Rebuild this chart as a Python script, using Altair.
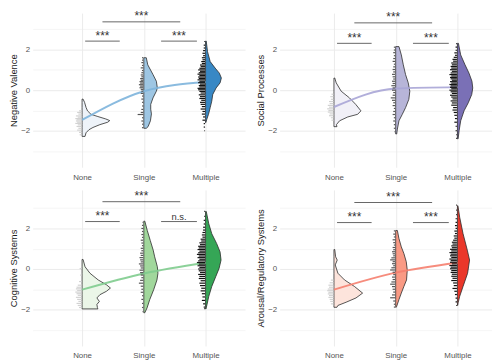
import altair as alt
import pandas as pd

FONT = "Liberation Sans"
GROUPS = ["None", "Single", "Multiple"]
GROUP_POS = [1, 2, 3]
PX_PER_UNIT = 62.5  # violin readings are in px of the x axis
W = 215
Y_DOMAIN_TOP = [-3.8, 3.8]
Y_DOMAIN_BOTTOM = [-3.8, 3.9]
H_TOP, H_BOTTOM = 156, 158
GRID = "#EBEBEB"
RUG_COLORS = ["#d2d2d2", "#555555", "#111111"]

BR_X_TOP = [1.33, 2.59]
BR_X_LEFT = [1.05, 1.61]
BR_X_RIGHT = [2.28, 2.86]

# ---------------- Negative Valence ----------------
NV_FILLS = ["#eef3f9", "#9ec6e3", "#3888c5"]
NV_LINE = "#7db4db"
NV_MEANS = [-1.47, -0.05, 0.40]
NV_BRACKET_Y = [3.37, 2.42, 2.42]
NV_LABELS = ["***", "***", "***"]
NV_NONE_Y = [-0.44, -0.6, -0.85, -1.02, -1.19, -1.3, -1.42, -1.5, -1.58, -1.7, -1.84, -1.95, -2.1, -2.28]
NV_NONE_D = [1, 2.5, 4, 5.5, 9, 16, 24, 28, 26, 18, 11, 7, 4, 3]
NV_SINGLE_Y = [1.6, 1.25, 0.77, 0.44, 0.11, -0.05, -0.38, -0.7, -0.94, -1.17, -1.51, -1.8, -1.88]
NV_SINGLE_D = [2.5, 4, 9.3, 12.7, 13.7, 12.7, 9.3, 7, 7, 7.7, 6.7, 4.3, 2.5]
NV_MULT_Y = [2.42, 1.9, 1.41, 1.09, 0.84, 0.6, 0.36, 0.11, -0.21, -0.54, -0.86, -1.19, -1.43, -1.6]
NV_MULT_D = [0.7, 2, 4.7, 9.7, 14, 16, 14.7, 10.7, 7.3, 6.3, 4.7, 3, 1.3, 0.3]
NV_NONE_RUG_Y = [-1.02, -1.1, -1.18, -1.27, -1.33, -1.4, -1.46, -1.52, -1.58, -1.64, -1.71, -1.79, -1.88, -1.97, -2.08, -2.2]
NV_NONE_RUG_J = [0.05, 0.08, 0.06, 0.1, 0.07, 0.11, 0.09, 0.1, 0.08, 0.11, 0.07, 0.09, 0.06, 0.08, 0.05, 0.04]
NV_SINGLE_RUG_Y = [1.6, 1.48, 1.36, 1.22, 1.1, 0.97, 0.86, 0.75, 0.66, 0.57, 0.49, 0.42, 0.35, 0.27, 0.2, 0.12, 0.04, -0.05, -0.16, -0.29, -0.44, -0.6, -0.78, -0.95, -1.1, -1.2, -1.36, -1.52, -1.68, -1.85]
NV_SINGLE_RUG_J = [0.03, 0.03, 0.04, 0.03, 0.05, 0.03, 0.04, 0.05, 0.04, 0.06, 0.05, 0.07, 0.06, 0.08, 0.06, 0.07, 0.05, 0.04, 0.05, 0.03, 0.04, 0.03, 0.03, 0.04, 0.05, 0.1, 0.03, 0.04, 0.03, 0.03]
NV_MULT_RUG_Y = [2.4, 2.22, 2.08, 1.95, 1.82, 1.7, 1.6, 1.5, 1.41, 1.32, 1.24, 1.16, 1.08, 1.0, 0.93, 0.86, 0.79, 0.72, 0.65, 0.58, 0.51, 0.44, 0.37, 0.3, 0.23, 0.16, 0.09, 0.02, -0.06, -0.14, -0.23, -0.32, -0.41, -0.5, -0.6, -0.7, -0.81, -0.93, -1.05, -1.18, -1.32, -1.48, -1.65, -1.82, -2.0]
NV_MULT_RUG_J = [0.02, 0.03, 0.03, 0.04, 0.05, 0.04, 0.06, 0.05, 0.07, 0.06, 0.09, 0.08, 0.1, 0.12, 0.09, 0.11, 0.13, 0.1, 0.12, 0.11, 0.13, 0.1, 0.12, 0.09, 0.11, 0.1, 0.13, 0.12, 0.1, 0.08, 0.11, 0.09, 0.1, 0.07, 0.09, 0.08, 0.06, 0.08, 0.05, 0.06, 0.04, 0.05, 0.03, 0.03, 0.02]

# ---------------- Social Processes ----------------
SP_FILLS = ["#f1f0f7", "#b7b5d8", "#7a70b6"]
SP_LINE = "#a9a5d6"
SP_MEANS = [-0.83, 0.08, 0.15]
SP_BRACKET_Y = [3.32, 2.31, 2.31]
SP_LABELS = ["***", "***", "***"]
SP_NONE_Y = [0.6, 0.36, -0.05, -0.38, -0.7, -1.02, -1.19, -1.32, -1.51, -1.7, -1.8]
SP_NONE_D = [0.8, 2.3, 7.3, 15.7, 22, 27.3, 24, 14, 5.7, 2.5, 3]
SP_SINGLE_Y = [2.15, 1.74, 1.25, 0.77, 0.36, -0.05, -0.45, -0.86, -1.19, -1.51, -1.92, -2.16]
SP_SINGLE_D = [3.3, 5.7, 7.7, 10, 12.7, 14.3, 13.3, 10, 6.7, 3.3, 1.7, 1]
SP_MULT_Y = [2.31, 1.74, 1.25, 0.84, 0.44, 0.11, -0.21, -0.62, -1.02, -1.51, -2.0, -2.4]
SP_MULT_D = [1, 3.3, 7.7, 11.7, 14.7, 15.5, 14.5, 11, 6.7, 3.3, 1.7, 0.7]
SP_NONE_RUG_Y = [-0.2, -0.32, -0.45, -0.56, -0.66, -0.75, -0.84, -0.92, -1.0, -1.08, -1.17, -1.26, -1.36, -1.48]
SP_NONE_RUG_J = [0.04, 0.06, 0.05, 0.08, 0.07, 0.1, 0.08, 0.11, 0.09, 0.1, 0.07, 0.08, 0.05, 0.04]
SP_SINGLE_RUG_Y = [2.12, 1.98, 1.85, 1.7, 1.56, 1.42, 1.28, 1.15, 1.02, 0.9, 0.78, 0.66, 0.55, 0.44, 0.33, 0.22, 0.11, 0.0, -0.12, -0.25, -0.38, -0.5, -0.62, -0.76, -0.9, -1.05, -1.2, -1.36, -1.52, -1.7, -1.88, -2.05]
SP_SINGLE_RUG_J = [0.03, 0.03, 0.04, 0.03, 0.04, 0.05, 0.03, 0.04, 0.05, 0.04, 0.06, 0.05, 0.04, 0.06, 0.05, 0.07, 0.05, 0.06, 0.04, 0.05, 0.08, 0.06, 0.04, 0.05, 0.03, 0.04, 0.05, 0.03, 0.04, 0.03, 0.03, 0.02]
SP_MULT_RUG_Y = [2.3, 2.12, 1.97, 1.84, 1.72, 1.62, 1.52, 1.43, 1.34, 1.25, 1.17, 1.09, 1.01, 0.93, 0.85, 0.77, 0.7, 0.63, 0.56, 0.49, 0.42, 0.35, 0.28, 0.21, 0.14, 0.07, 0.0, -0.08, -0.16, -0.25, -0.34, -0.43, -0.53, -0.63, -0.74, -0.86, -0.98, -1.1, -1.24, -1.4, -1.58, -1.78, -2.0, -2.2, -2.38]
SP_MULT_RUG_J = [0.02, 0.03, 0.03, 0.05, 0.04, 0.06, 0.08, 0.07, 0.1, 0.09, 0.11, 0.1, 0.12, 0.09, 0.11, 0.13, 0.1, 0.12, 0.11, 0.09, 0.12, 0.1, 0.13, 0.11, 0.12, 0.1, 0.13, 0.11, 0.09, 0.12, 0.1, 0.08, 0.11, 0.09, 0.1, 0.07, 0.08, 0.06, 0.05, 0.04, 0.05, 0.03, 0.03, 0.02, 0.02]

# ---------------- Cognitive Systems ----------------
CS_FILLS = ["#ebf6e8", "#a1d79c", "#35a656"]
CS_LINE = "#80cc8e"
CS_MEANS = [-1.02, -0.22, 0.31]
CS_BRACKET_Y = [3.32, 2.34, 2.34]
CS_LABELS = ["***", "***", "n.s."]
CS_NONE_Y = [0.47, 0.11, -0.21, -0.54, -0.78, -0.94, -1.1, -1.27, -1.43, -1.6, -1.75, -1.9, -1.97]
CS_NONE_D = [1, 3, 8, 16.3, 24.7, 28.7, 24.7, 18, 15, 17.5, 15, 15.5, 16]
CS_SINGLE_Y = [2.36, 1.9, 1.41, 0.93, 0.6, 0.11, -0.21, -0.54, -1.02, -1.51, -1.92, -2.16]
CS_SINGLE_D = [1, 3.5, 6.5, 9.5, 11, 13.7, 14.3, 13.3, 10, 6, 3.3, 1]
CS_MULT_Y = [2.84, 2.23, 1.74, 1.25, 0.84, 0.44, 0.03, -0.38, -0.86, -1.35, -1.92, -1.97]
CS_MULT_D = [0.7, 3.3, 6.3, 11.3, 14.7, 15.7, 13.7, 10.3, 6.3, 3.3, 0.7, 0.5]
CS_NONE_RUG_Y = [0.02, -0.3, -0.62, -0.8, -0.9, -0.98, -1.06, -1.14, -1.22, -1.3, -1.4, -1.5, -1.6, -1.7, -1.8, -1.9]
CS_NONE_RUG_J = [0.04, 0.03, 0.05, 0.07, 0.09, 0.1, 0.08, 0.11, 0.09, 0.07, 0.1, 0.08, 0.06, 0.09, 0.07, 0.05]
CS_SINGLE_RUG_Y = [2.3, 2.15, 2.0, 1.85, 1.7, 1.56, 1.42, 1.28, 1.15, 1.02, 0.9, 0.78, 0.67, 0.56, 0.45, 0.35, 0.25, 0.15, 0.05, -0.06, -0.18, -0.3, -0.43, -0.56, -0.7, -0.85, -1.0, -1.15, -1.32, -1.5, -1.7, -1.9, -2.1]
CS_SINGLE_RUG_J = [0.02, 0.03, 0.04, 0.03, 0.04, 0.03, 0.05, 0.04, 0.03, 0.05, 0.04, 0.06, 0.05, 0.07, 0.06, 0.05, 0.08, 0.06, 0.05, 0.07, 0.06, 0.05, 0.04, 0.06, 0.08, 0.05, 0.04, 0.05, 0.03, 0.04, 0.03, 0.03, 0.02]
CS_MULT_RUG_Y = [2.84, 2.6, 2.4, 2.22, 2.06, 1.92, 1.8, 1.68, 1.57, 1.47, 1.38, 1.29, 1.2, 1.12, 1.04, 0.96, 0.88, 0.8, 0.72, 0.64, 0.56, 0.48, 0.4, 0.32, 0.24, 0.16, 0.08, 0.0, -0.09, -0.18, -0.27, -0.37, -0.47, -0.58, -0.7, -0.82, -0.95, -1.08, -1.22, -1.38, -1.55, -1.72, -1.88, -1.96]
CS_MULT_RUG_J = [0.02, 0.02, 0.03, 0.03, 0.04, 0.04, 0.05, 0.06, 0.05, 0.08, 0.07, 0.1, 0.09, 0.12, 0.11, 0.13, 0.1, 0.12, 0.14, 0.11, 0.13, 0.1, 0.12, 0.14, 0.11, 0.13, 0.1, 0.12, 0.11, 0.09, 0.12, 0.1, 0.11, 0.08, 0.1, 0.09, 0.07, 0.08, 0.06, 0.05, 0.06, 0.04, 0.03, 0.02]

# ---------------- Arousal/Regulatory Systems ----------------
AR_FILLS = ["#fde4dc", "#f99a84", "#ea372a"]
AR_LINE = "#f5806f"
AR_MEANS = [-1.02, -0.18, 0.31]
AR_BRACKET_Y = [3.28, 2.29, 2.29]
AR_LABELS = ["***", "***", "***"]
AR_NONE_Y = [0.96, 0.6, 0.44, 0.2, -0.21, -0.54, -0.86, -1.19, -1.43, -1.64, -1.8, -1.89]
AR_NONE_D = [0.8, 1.7, 3.3, 1.3, 4, 10.7, 20.7, 29, 22.3, 12.3, 4, 3]
AR_SINGLE_Y = [1.9, 1.5, 1.09, 0.76, 0.36, -0.05, -0.54, -0.86, -1.19, -1.51, -1.84, -1.89]
AR_SINGLE_D = [1.7, 3.3, 5.7, 8.3, 10.7, 11.7, 11, 8.3, 5.7, 3.3, 1, 0.5]
AR_MULT_Y = [3.12, 2.55, 1.74, 0.93, 0.44, -0.21, -0.86, -1.35, -1.67, -1.8]
AR_MULT_D = [0.5, 2.3, 5.7, 10, 12.3, 10.3, 5.7, 2.3, 0.7, 0.3]
AR_NONE_RUG_Y = [-0.55, -0.68, -0.8, -0.9, -0.99, -1.07, -1.15, -1.23, -1.31, -1.4, -1.5, -1.6, -1.72]
AR_NONE_RUG_J = [0.05, 0.07, 0.09, 0.08, 0.1, 0.11, 0.09, 0.1, 0.08, 0.09, 0.07, 0.06, 0.05]
AR_SINGLE_RUG_Y = [1.88, 1.72, 1.58, 1.44, 1.3, 1.18, 1.06, 0.95, 0.85, 0.75, 0.65, 0.55, 0.45, 0.36, 0.26, 0.16, 0.06, -0.05, -0.16, -0.28, -0.4, -0.52, -0.64, -0.75, -0.87, -1.0, -1.14, -1.28, -1.42, -1.58, -1.74, -1.88]
AR_SINGLE_RUG_J = [0.03, 0.04, 0.03, 0.05, 0.04, 0.03, 0.05, 0.04, 0.06, 0.05, 0.04, 0.07, 0.09, 0.05, 0.06, 0.04, 0.07, 0.09, 0.05, 0.04, 0.06, 0.05, 0.07, 0.09, 0.06, 0.05, 0.04, 0.06, 0.09, 0.04, 0.03, 0.03]
AR_MULT_RUG_Y = [3.15, 2.9, 2.68, 2.48, 2.3, 2.14, 2.0, 1.87, 1.75, 1.63, 1.52, 1.42, 1.32, 1.23, 1.14, 1.05, 0.97, 0.89, 0.81, 0.73, 0.65, 0.57, 0.49, 0.41, 0.33, 0.25, 0.17, 0.09, 0.01, -0.08, -0.17, -0.26, -0.36, -0.46, -0.57, -0.69, -0.82, -0.96, -1.1, -1.26, -1.44, -1.62, -1.8]
AR_MULT_RUG_J = [0.02, 0.02, 0.02, 0.03, 0.03, 0.04, 0.03, 0.05, 0.04, 0.06, 0.05, 0.07, 0.09, 0.08, 0.1, 0.09, 0.12, 0.1, 0.13, 0.11, 0.12, 0.1, 0.13, 0.11, 0.12, 0.09, 0.13, 0.11, 0.12, 0.1, 0.11, 0.09, 0.1, 0.08, 0.1, 0.07, 0.06, 0.08, 0.05, 0.04, 0.03, 0.03, 0.02]

X_DOMAIN_LEFT = [0.2, 3.64]
X_DOMAIN_RIGHT = [0.12, 3.56]


def build_panel(title, fills, line_color, means, violins, rugs, br_y, br_lab, xdom, ydom, h):
    xs = alt.Scale(domain=xdom, nice=False, zero=False)
    ys = alt.Scale(domain=ydom, nice=False, zero=False)
    label_expr = "[" + ",".join("'%s'" % g for g in GROUPS) + "][datum.value - 1]"
    xax = alt.Axis(values=GROUP_POS, labelExpr=label_expr, grid=True, gridColor=GRID,
                   gridWidth=1, domain=False, ticks=False, labelFont=FONT, labelFontSize=8,
                   labelColor="#555555", labelPadding=6, labelFlush=False, title=None)
    yax = alt.Axis(values=[-3, -2, -1, 0, 1, 2, 3],
                   labelExpr="datum.value % 2 == 0 ? datum.label : ''",
                   grid=True, gridColor=GRID,
                   gridWidth={"condition": {"test": "datum.value % 2 != 0", "value": 0.5}, "value": 1},
                   domain=False, ticks=False, labelFont=FONT, labelFontSize=8,
                   labelColor="#555555", labelPadding=3, title=title, titleFont=FONT,
                   titleFontSize=9.5, titleFontWeight="normal", titleColor="#1a1a1a",
                   titlePadding=2)

    def X(f):
        return alt.X(f, type="quantitative", scale=xs, axis=xax)

    def Y(f):
        return alt.Y(f, type="quantitative", scale=ys, axis=yax)

    vrows = []
    for g, pos, fill, (vy, vd) in zip(GROUPS, GROUP_POS, fills, violins):
        for yv, d in zip(vy, vd):
            vrows.append({"y": yv, "xa": pos, "xb": pos + d / PX_PER_UNIT, "g": g, "fill": fill})
    vdf = pd.DataFrame(vrows)

    rrows = []
    for g, pos, col, (ry, rj) in zip(GROUPS, GROUP_POS, RUG_COLORS, rugs):
        for yv, j in zip(ry, rj):
            rrows.append({"y": yv, "xa": pos - j, "xb": pos - 0.008, "col": col})
    rdf = pd.DataFrame(rrows)

    mdf = pd.DataFrame({"x": GROUP_POS, "y": means})

    spans = [BR_X_TOP, BR_X_LEFT, BR_X_RIGHT]
    bdf = pd.DataFrame({
        "xa": [s[0] for s in spans], "xb": [s[1] for s in spans],
        "xm": [(s[0] + s[1]) / 2 for s in spans], "y": br_y, "lab": br_lab,
    })

    violin = alt.Chart(vdf).mark_area(orient="horizontal", stroke="#2b2b2b", strokeWidth=0.8,
                                      strokeJoin="round").encode(
        y=Y("y"), x=X("xa"), x2=alt.X2("xb"), fill=alt.Fill("fill:N", scale=None), detail="g:N")
    line = alt.Chart(mdf).mark_line(color=line_color, strokeWidth=2, opacity=0.9,
                                    interpolate="monotone").encode(x=X("x"), y=Y("y"))
    rug = alt.Chart(rdf).mark_rule(strokeWidth=1.2).encode(
        y=Y("y"), x=X("xa"), x2=alt.X2("xb"), color=alt.Color("col:N", scale=None))
    brk = alt.Chart(bdf).mark_rule(color="#666666", strokeWidth=1).encode(
        y=Y("y"), x=X("xa"), x2=alt.X2("xb"))
    txt = alt.Chart(bdf).mark_text(font=FONT, color="#333333",
                                   baseline="alphabetic", dy=-1.5).encode(
        x=X("xm"), y=Y("y"), text="lab:N",
        size=alt.condition("datum.lab == 'n.s.'", alt.value(9.5), alt.value(12)))
    return alt.layer(violin, line, rug, brk, txt).properties(width=W, height=h)


p1 = build_panel("Negative Valence", NV_FILLS, NV_LINE, NV_MEANS,
                 [(NV_NONE_Y, NV_NONE_D), (NV_SINGLE_Y, NV_SINGLE_D), (NV_MULT_Y, NV_MULT_D)],
                 [(NV_NONE_RUG_Y, NV_NONE_RUG_J), (NV_SINGLE_RUG_Y, NV_SINGLE_RUG_J), (NV_MULT_RUG_Y, NV_MULT_RUG_J)],
                 NV_BRACKET_Y, NV_LABELS, X_DOMAIN_LEFT, Y_DOMAIN_TOP, H_TOP)
p2 = build_panel("Social Processes", SP_FILLS, SP_LINE, SP_MEANS,
                 [(SP_NONE_Y, SP_NONE_D), (SP_SINGLE_Y, SP_SINGLE_D), (SP_MULT_Y, SP_MULT_D)],
                 [(SP_NONE_RUG_Y, SP_NONE_RUG_J), (SP_SINGLE_RUG_Y, SP_SINGLE_RUG_J), (SP_MULT_RUG_Y, SP_MULT_RUG_J)],
                 SP_BRACKET_Y, SP_LABELS, X_DOMAIN_RIGHT, Y_DOMAIN_TOP, H_TOP)
p3 = build_panel("Cognitive Systems", CS_FILLS, CS_LINE, CS_MEANS,
                 [(CS_NONE_Y, CS_NONE_D), (CS_SINGLE_Y, CS_SINGLE_D), (CS_MULT_Y, CS_MULT_D)],
                 [(CS_NONE_RUG_Y, CS_NONE_RUG_J), (CS_SINGLE_RUG_Y, CS_SINGLE_RUG_J), (CS_MULT_RUG_Y, CS_MULT_RUG_J)],
                 CS_BRACKET_Y, CS_LABELS, X_DOMAIN_LEFT, Y_DOMAIN_BOTTOM, H_BOTTOM)
p4 = build_panel("Arousal/Regulatory Systems", AR_FILLS, AR_LINE, AR_MEANS,
                 [(AR_NONE_Y, AR_NONE_D), (AR_SINGLE_Y, AR_SINGLE_D), (AR_MULT_Y, AR_MULT_D)],
                 [(AR_NONE_RUG_Y, AR_NONE_RUG_J), (AR_SINGLE_RUG_Y, AR_SINGLE_RUG_J), (AR_MULT_RUG_Y, AR_MULT_RUG_J)],
                 AR_BRACKET_Y, AR_LABELS, X_DOMAIN_RIGHT, Y_DOMAIN_BOTTOM, H_BOTTOM)

chart = alt.vconcat(
    alt.hconcat(p1, p2, spacing=10),
    alt.hconcat(p3, p4, spacing=10),
    spacing=9,
).properties(padding=0, background="white").configure_view(strokeWidth=0)

chart.save("out.html", embed_options={"renderer": "svg", "actions": False})
